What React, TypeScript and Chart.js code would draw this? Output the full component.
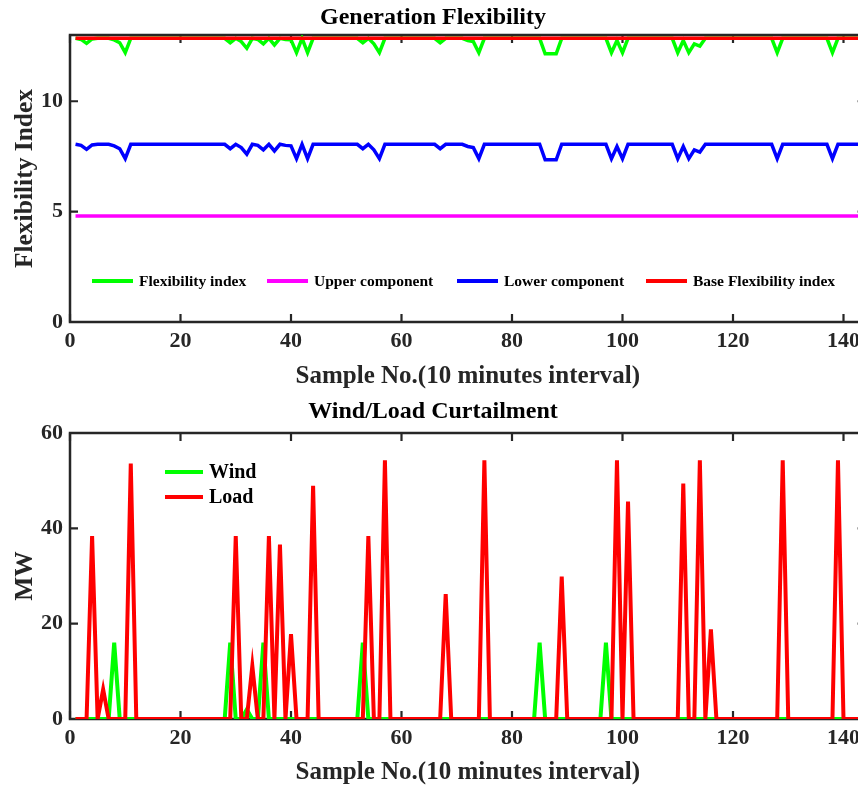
import React, { useEffect, useRef } from "react";
import { Chart, registerables } from "chart.js";

Chart.register(...registerables);

const FONT = "'Liberation Serif', 'Times New Roman', serif";
const AXIS_COLOR = "#262626";

// ---- Data (sample numbers 1..144, 10-minute interval) ----
const samples: number[] = Array.from({ length: 144 }, (_, i) => i + 1);

const flexTitle = "Generation Flexibility";
const curtTitle = "Wind/Load Curtailment";
const xAxisLabel = "Sample No.(10 minutes interval)";
const flexYLabel = "Flexibility Index";
const curtYLabel = "MW";

const flexSeriesNames = ["Flexibility index", "Upper component", "Lower component", "Base Flexibility index"];
const curtSeriesNames = ["Wind", "Load"];

const flexibilityIndex: number[] = [
  12.85, 12.8, 12.62, 12.82, 12.85, 12.85, 12.85, 12.78, 12.65, 12.2, 12.85, 12.85,
  12.85, 12.85, 12.85, 12.85, 12.85, 12.85, 12.85, 12.85, 12.85, 12.85, 12.85, 12.85,
  12.85, 12.85, 12.85, 12.85, 12.65, 12.85, 12.7, 12.4, 12.85, 12.8, 12.6, 12.85,
  12.55, 12.85, 12.8, 12.78, 12.2, 12.85, 12.2, 12.85, 12.85, 12.85, 12.85, 12.85,
  12.85, 12.85, 12.85, 12.85, 12.65, 12.85, 12.6, 12.2, 12.85, 12.85, 12.85, 12.85,
  12.85, 12.85, 12.85, 12.85, 12.85, 12.85, 12.65, 12.85, 12.85, 12.85, 12.85, 12.75,
  12.7, 12.2, 12.85, 12.85, 12.85, 12.85, 12.85, 12.85, 12.85, 12.85, 12.85, 12.85,
  12.85, 12.15, 12.15, 12.15, 12.85, 12.85, 12.85, 12.85, 12.85, 12.85, 12.85, 12.85,
  12.85, 12.2, 12.75, 12.2, 12.85, 12.85, 12.85, 12.85, 12.85, 12.85, 12.85, 12.85,
  12.85, 12.2, 12.75, 12.2, 12.6, 12.5, 12.85, 12.85, 12.85, 12.85, 12.85, 12.85,
  12.85, 12.85, 12.85, 12.85, 12.85, 12.85, 12.85, 12.2, 12.85, 12.85, 12.85, 12.85,
  12.85, 12.85, 12.85, 12.85, 12.85, 12.2, 12.85, 12.85, 12.85, 12.85, 12.85, 12.85,
];

const upperComponentLevel = 4.8;

const lowerComponent: number[] = [
  8.05, 8.0, 7.82, 8.02, 8.05, 8.05, 8.05, 7.98, 7.85, 7.4, 8.05, 8.05,
  8.05, 8.05, 8.05, 8.05, 8.05, 8.05, 8.05, 8.05, 8.05, 8.05, 8.05, 8.05,
  8.05, 8.05, 8.05, 8.05, 7.85, 8.05, 7.9, 7.6, 8.05, 8.0, 7.8, 8.05,
  7.75, 8.05, 8.0, 7.98, 7.4, 8.05, 7.4, 8.05, 8.05, 8.05, 8.05, 8.05,
  8.05, 8.05, 8.05, 8.05, 7.85, 8.05, 7.8, 7.4, 8.05, 8.05, 8.05, 8.05,
  8.05, 8.05, 8.05, 8.05, 8.05, 8.05, 7.85, 8.05, 8.05, 8.05, 8.05, 7.95,
  7.9, 7.4, 8.05, 8.05, 8.05, 8.05, 8.05, 8.05, 8.05, 8.05, 8.05, 8.05,
  8.05, 7.35, 7.35, 7.35, 8.05, 8.05, 8.05, 8.05, 8.05, 8.05, 8.05, 8.05,
  8.05, 7.4, 7.95, 7.4, 8.05, 8.05, 8.05, 8.05, 8.05, 8.05, 8.05, 8.05,
  8.05, 7.4, 7.95, 7.4, 7.8, 7.7, 8.05, 8.05, 8.05, 8.05, 8.05, 8.05,
  8.05, 8.05, 8.05, 8.05, 8.05, 8.05, 8.05, 7.4, 8.05, 8.05, 8.05, 8.05,
  8.05, 8.05, 8.05, 8.05, 8.05, 7.4, 8.05, 8.05, 8.05, 8.05, 8.05, 8.05,
];

const baseFlexibilityLevel = 12.85;

const windCurtailment: number[] = [
  0, 0, 0, 0, 0, 0, 0, 16, 0, 0, 0, 0,
  0, 0, 0, 0, 0, 0, 0, 0, 0, 0, 0, 0,
  0, 0, 0, 0, 16, 0, 0, 2, 0, 0, 16, 0,
  0, 0, 0, 0, 0, 0, 0, 0, 0, 0, 0, 0,
  0, 0, 0, 0, 16, 0, 0, 0, 0, 0, 0, 0,
  0, 0, 0, 0, 0, 0, 0, 0, 0, 0, 0, 0,
  0, 0, 0, 0, 0, 0, 0, 0, 0, 0, 0, 0,
  16, 0, 0, 0, 0, 0, 0, 0, 0, 0, 0, 0,
  16, 0, 0, 0, 0, 0, 0, 0, 0, 0, 0, 0,
  0, 0, 0, 0, 0, 0, 0, 0, 0, 0, 0, 0,
  0, 0, 0, 0, 0, 0, 0, 0, 0, 0, 0, 0,
  0, 0, 0, 0, 0, 0, 0, 0, 0, 0, 0, 0,
];

const loadCurtailment: number[] = [
  0, 0, 0, 38.4, 0, 6.2, 0, 0, 0, 0, 53.6, 0,
  0, 0, 0, 0, 0, 0, 0, 0, 0, 0, 0, 0,
  0, 0, 0, 0, 0, 38.4, 0, 0, 11.1, 0, 0, 38.4,
  0, 36.6, 0, 17.8, 0, 0, 0, 48.9, 0, 0, 0, 0,
  0, 0, 0, 0, 0, 38.4, 0, 0, 54.3, 0, 0, 0,
  0, 0, 0, 0, 0, 0, 0, 26.2, 0, 0, 0, 0,
  0, 0, 54.3, 0, 0, 0, 0, 0, 0, 0, 0, 0,
  0, 0, 0, 0, 29.9, 0, 0, 0, 0, 0, 0, 0,
  0, 0, 54.3, 0, 45.6, 0, 0, 0, 0, 0, 0, 0,
  0, 0, 49.4, 0, 0, 54.3, 0, 18.8, 0, 0, 0, 0,
  0, 0, 0, 0, 0, 0, 0, 0, 54.3, 0, 0, 0,
  0, 0, 0, 0, 0, 0, 54.3, 0, 0, 0, 0, 0,
];

const xTickStep = 20;
const flexYTickStep = 5;
const curtYTickStep = 20;

// ---- Plugins ----
const axisBoxPlugin = {
  id: "axisBox",
  beforeDatasetsDraw(chart: any) {
    const { ctx, chartArea: a, scales } = chart;
    const len = 8;
    ctx.save();
    ctx.strokeStyle = AXIS_COLOR;
    ctx.lineWidth = 2.5;
    ctx.strokeRect(a.left, a.top, a.right - a.left, a.bottom - a.top);
    ctx.lineWidth = 2.2;
    ctx.beginPath();
    scales.x.ticks.forEach((t: any) => {
      const px = scales.x.getPixelForValue(t.value);
      ctx.moveTo(px, a.bottom);
      ctx.lineTo(px, a.bottom - len);
      ctx.moveTo(px, a.top);
      ctx.lineTo(px, a.top + len);
    });
    scales.y.ticks.forEach((t: any) => {
      const py = scales.y.getPixelForValue(t.value);
      ctx.moveTo(a.left, py);
      ctx.lineTo(a.left + len, py);
      ctx.moveTo(a.right, py);
      ctx.lineTo(a.right - len, py);
    });
    ctx.stroke();
    ctx.restore();
  },
};

const manualLegendPlugin = {
  id: "manualLegend",
  afterDatasetsDraw(chart: any, _args: any, opts: any) {
    const { ctx } = chart;
    const items = opts.items || [];
    ctx.save();
    ctx.font = `bold ${opts.fontSize}px ${FONT}`;
    ctx.textBaseline = "middle";
    ctx.textAlign = "left";
    for (let i = 0; i < items.length; i++) {
      const it = items[i];
      const ds = chart.data.datasets[it.index];
      ctx.strokeStyle = ds.borderColor;
      ctx.lineWidth = 4;
      ctx.beginPath();
      ctx.moveTo(it.x, it.y);
      ctx.lineTo(it.x + opts.lineLength, it.y);
      ctx.stroke();
      ctx.fillStyle = "#000";
      ctx.fillText(ds.label, it.x + opts.lineLength + opts.gap, it.y + 1);
    }
    ctx.restore();
  },
};

function series(label: string, values: number[], color: string, order: number, width: number) {
  return {
    label,
    data: values.map((y, i) => ({ x: samples[i], y })),
    borderColor: color,
    backgroundColor: color,
    borderWidth: width,
    pointRadius: 0,
    pointHoverRadius: 0,
    tension: 0,
    fill: false,
    order,
  };
}

function constantSeries(label: string, level: number, color: string, order: number, width: number) {
  return series(label, samples.map(() => level), color, order, width);
}

function makeOptions(p: {
  title: string;
  titlePad: { top: number; bottom: number };
  yLabel: string;
  yMax: number;
  yStep: number;
  xHeight: number;
  xTitlePadBottom: number;
  legend: any;
}) {
  return {
    responsive: false,
    animation: false as const,
    devicePixelRatio: 1,
    layout: { padding: 0 },
    plugins: {
      legend: { display: false },
      tooltip: { enabled: false },
      title: {
        display: true,
        text: p.title,
        color: "#000",
        font: { family: FONT, size: 24, weight: "bold" as const, lineHeight: 1.2 },
        padding: p.titlePad,
      },
      manualLegend: p.legend,
    },
    scales: {
      x: {
        type: "linear" as const,
        min: 0,
        max: 144,
        grid: { display: false, drawTicks: false },
        border: { display: false },
        ticks: {
          stepSize: xTickStep,
          includeBounds: false,
          color: AXIS_COLOR,
          padding: 6,
          maxRotation: 0,
          font: { family: FONT, size: 22, weight: "bold" as const, lineHeight: 1.2 },
        },
        title: {
          display: true,
          text: xAxisLabel,
          color: AXIS_COLOR,
          font: { family: FONT, size: 25, weight: "bold" as const, lineHeight: 1.2 },
          padding: { top: 0, bottom: p.xTitlePadBottom },
        },
        afterFit(scale: any) {
          scale.height = p.xHeight;
        },
      },
      y: {
        type: "linear" as const,
        min: 0,
        max: p.yMax,
        grid: { display: false, drawTicks: false },
        border: { display: false },
        ticks: {
          stepSize: p.yStep,
          includeBounds: false,
          color: AXIS_COLOR,
          padding: 7,
          font: { family: FONT, size: 22, weight: "bold" as const, lineHeight: 1.2 },
        },
        title: {
          display: true,
          text: p.yLabel,
          color: AXIS_COLOR,
          font: { family: FONT, size: 25.5, weight: "bold" as const, lineHeight: 1.2 },
          padding: { top: 10, bottom: 0 },
        },
        afterFit(scale: any) {
          scale.width = 70;
        },
      },
    },
  };
}

export default function App() {
  const topRef = useRef<HTMLCanvasElement | null>(null);
  const bottomRef = useRef<HTMLCanvasElement | null>(null);

  useEffect(() => {
    if (!topRef.current || !bottomRef.current) return;

    const top = new Chart(topRef.current, {
      type: "line",
      data: {
        datasets: [
          series(flexSeriesNames[0], flexibilityIndex, "#00FF00", 3, 3.5),
          constantSeries(flexSeriesNames[1], upperComponentLevel, "#FF00FF", 2, 3.5),
          series(flexSeriesNames[2], lowerComponent, "#0000FF", 1, 3.5),
          constantSeries(flexSeriesNames[3], baseFlexibilityLevel, "#FF0000", 0, 3.5),
        ],
      },
      options: makeOptions({
        title: flexTitle,
        titlePad: { top: 3.5, bottom: 2.7 },
        yLabel: flexYLabel,
        yMax: 13,
        yStep: flexYTickStep,
        xHeight: 72,
        xTitlePadBottom: 2,
        legend: {
          fontSize: 15.5,
          lineLength: 41,
          gap: 6,
          items: [
            { index: 0, x: 92, y: 281 },
            { index: 1, x: 267, y: 281 },
            { index: 2, x: 457, y: 281 },
            { index: 3, x: 646, y: 281 },
          ],
        },
      }) as any,
      plugins: [axisBoxPlugin, manualLegendPlugin],
    });

    const bottom = new Chart(bottomRef.current, {
      type: "line",
      data: {
        datasets: [
          series(curtSeriesNames[0], windCurtailment, "#00FF00", 1, 4),
          series(curtSeriesNames[1], loadCurtailment, "#FF0000", 0, 4),
        ],
      },
      options: makeOptions({
        title: curtTitle,
        titlePad: { top: 3.6, bottom: 6.6 },
        yLabel: curtYLabel,
        yMax: 60,
        yStep: curtYTickStep,
        xHeight: 70,
        xTitlePadBottom: 1,
        legend: {
          fontSize: 20,
          lineLength: 38,
          gap: 6,
          items: [
            { index: 0, x: 165, y: 78 },
            { index: 1, x: 165, y: 103 },
          ],
        },
      }) as any,
      plugins: [axisBoxPlugin, manualLegendPlugin],
    });

    return () => {
      top.destroy();
      bottom.destroy();
    };
  }, []);

  return (
    <div
      style={{
        position: "absolute",
        left: 0,
        top: 0,
        width: 858,
        height: 789,
        overflow: "hidden",
        background: "#fff",
      }}
    >
      <canvas
        ref={topRef}
        width={866}
        height={394}
        style={{ position: "absolute", left: 0, top: 0, width: 866, height: 394 }}
      />
      <canvas
        ref={bottomRef}
        width={866}
        height={395}
        style={{ position: "absolute", left: 0, top: 394, width: 866, height: 395 }}
      />
    </div>
  );
}
